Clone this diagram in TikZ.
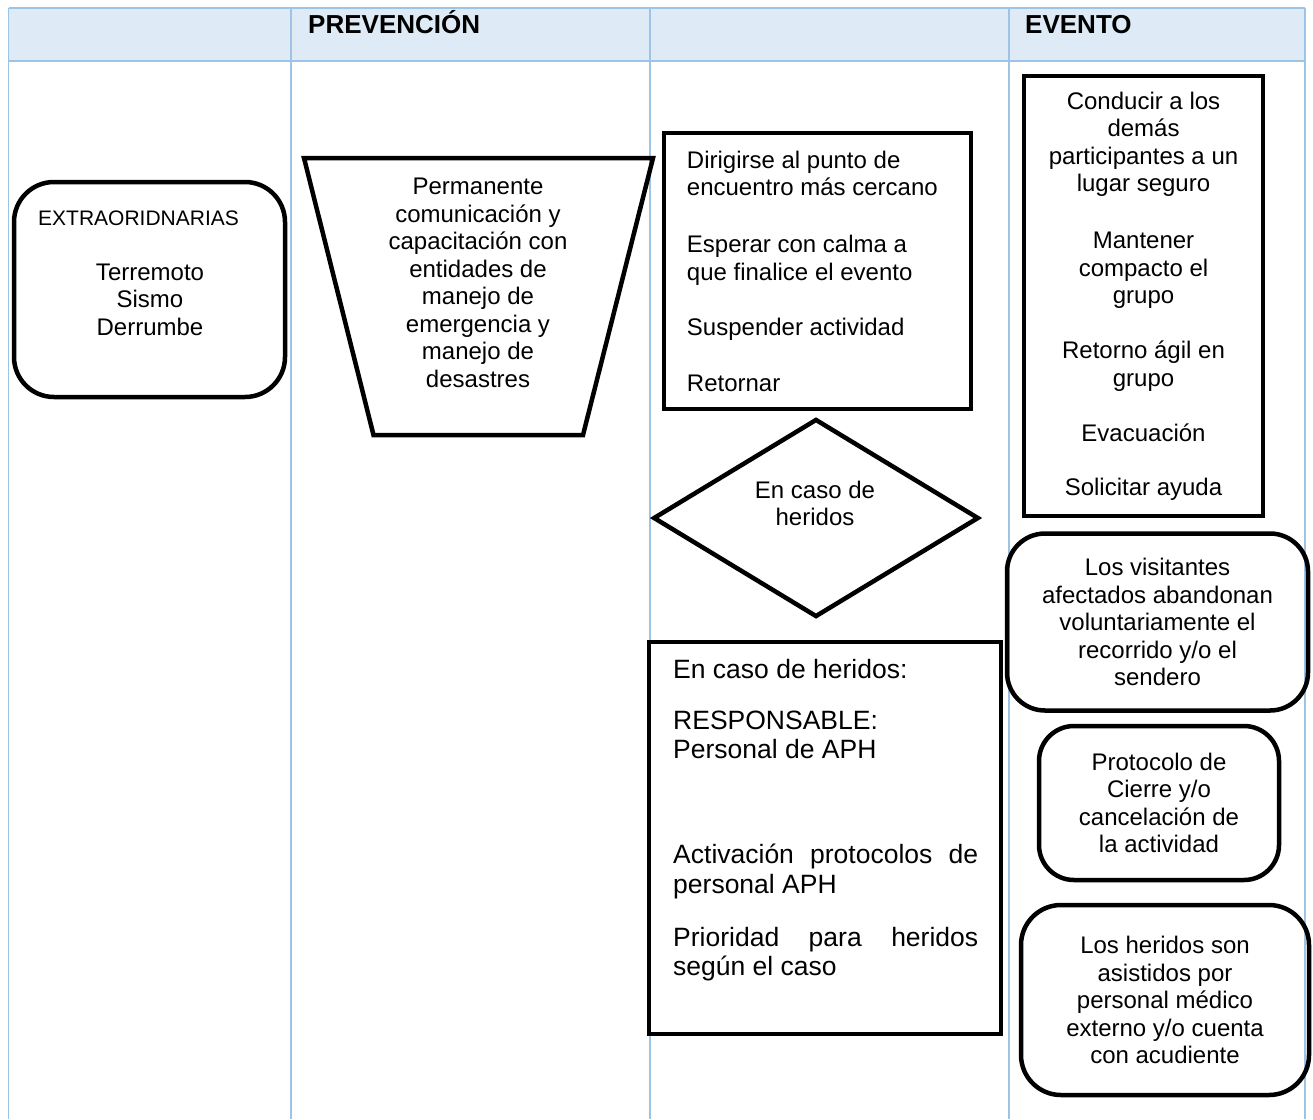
\documentclass[tikz,border=0pt]{standalone}
\usepackage{fontspec}
\setmainfont{Liberation Sans}
\usepackage{tikz}
\usetikzlibrary{shapes,positioning}
\definecolor{headfill}{HTML}{DEEAF6}
\definecolor{gridline}{HTML}{9DC3E6}
\newcommand{\bodyfont}{\fontsize{24}{27.5}\selectfont}
\newcommand{\bigfont}{\fontsize{26.5}{29.5}\selectfont}
\newcommand{\smallfont}{\fontsize{21}{25}\selectfont}
\newcommand{\headfont}{\fontsize{26}{30}\selectfont\bfseries}
\tikzset{
  box/.style={draw, line width=4.5pt, inner sep=0pt},
  roundbox/.style={box, rounded corners=40pt},
  txt/.style={inner sep=0pt, align=center, font=\bodyfont},
  lefttxt/.style={txt, align=left, anchor=west},
  head/.style={inner sep=0pt, anchor=base west, font=\headfont},
  grid/.style={draw=gridline, line width=1.8pt}
}

\begin{document}
\begin{tikzpicture}[x=1pt,y=-1pt]
  \useasboundingbox (0,0) rectangle (1313,1119);
  \fill[headfill] (8.5,8) rectangle (1305,61);
  \draw[grid] (8.5,8) -- (1305,8);
  \draw[grid] (8.5,61) -- (1305,61);
  \foreach \x in {8.5,291,650,1009,1305}
    \draw[grid] (\x,8) -- (\x,1119);
  \node (prev) [head] at (308,33.5) {PREVENCIÓN};
  \node (even) [head] at (1025,33.5) {EVENTO};

  \node (extra) [roundbox, minimum width=271pt, minimum height=215pt] at (149.5,289.5) {};
  \node (extratitle) [lefttxt, font=\smallfont] at (38,218) {EXTRAORIDNARIAS};
  \node (extralist) [txt] at (150,299.5) {Terremoto\\Sismo\\Derrumbe};

  \coordinate (tl) at (304,158);
  \coordinate (tr) at (653,158);
  \coordinate (br) at (583,435);
  \coordinate (bl) at (373.5,435);
  \draw[line width=4.5pt] (tl) -- (tr) -- (br) -- (bl) -- cycle;
  \node (perm) [txt] at (478,283) {Permanente\\comunicación y\\capacitación con\\entidades de\\manejo de\\emergencia y\\manejo de\\desastres};

  \node (dirigir) [box, minimum width=307pt, minimum height=276pt] at (817.5,271) {};
  \node (dirigirtxt) [lefttxt, right=25pt of dirigir.west] {Dirigirse al punto de\\encuentro más cercano\\[29.5pt]Esperar con calma a\\que finalice el evento\\[27.5pt]Suspender actividad\\[28.5pt]Retornar};

  \node (herir) [box, diamond, minimum width=325.5pt, minimum height=198pt] at (816,518) {};
  \node (herirtxt) [txt] at (815,503.5) {En caso de\\heridos};

  \node (aph) [box, minimum width=352pt, minimum height=392pt] at (825,838) {};
  \node (aphtxt) [lefttxt, font=\bigfont] at (673,820) {En caso de heridos:\\[21.5pt]RESPONSABLE:\\Personal de APH\\[75.5pt]\makebox[305pt][s]{Activación protocolos de}\\personal APH\\[23.5pt]\makebox[305pt][s]{Prioridad para heridos}\\según el caso};

  \node (conducir) [box, txt, minimum width=239pt, minimum height=440pt] at (1143.5,296) {Conducir a los\\demás\\participantes a un\\lugar seguro\\[29.5pt]Mantener\\compacto el\\grupo\\[27.5pt]Retorno ágil en\\grupo\\[27.5pt]Evacuación\\[26.5pt]Solicitar ayuda};

  \node (visit) [roundbox, txt, rounded corners=38pt, minimum width=301pt, minimum height=177pt] at (1157.5,622) {Los visitantes\\afectados abandonan\\voluntariamente el\\recorrido y/o el\\sendero};
  \node (cierre) [roundbox, txt, rounded corners=35pt, minimum width=240pt, minimum height=154pt] at (1159,803) {Protocolo de\\Cierre y/o\\cancelación de\\la actividad};
  \node (medico) [roundbox, txt, minimum width=288pt, minimum height=190pt] at (1165,1000) {Los heridos son\\asistidos por\\personal médico\\externo y/o cuenta\\con acudiente};
\end{tikzpicture}
\end{document}
